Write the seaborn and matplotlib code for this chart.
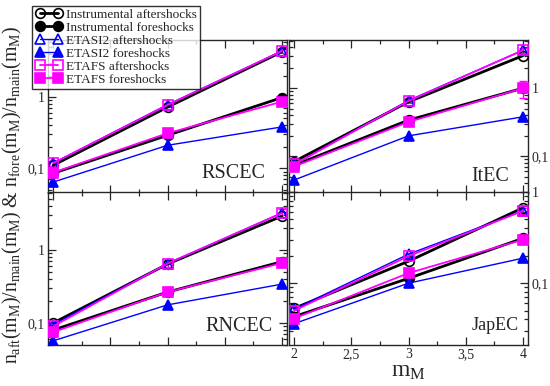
import numpy as np
import pandas as pd
import matplotlib
matplotlib.use("Agg")
import matplotlib.pyplot as plt
import matplotlib.ticker as mticker
import seaborn as sns

# magnitude of the mainshock
m_M = [2, 3, 4]

# RSCEC
rs_inst_aft = [0.110, 0.72, 4.3]
rs_inst_fore = [0.085, 0.29, 0.98]
rs_etasi2_aft = [0.118, 0.78, 4.4]
rs_etasi2_fore = [0.064, 0.21, 0.38]
rs_etafs_aft = [0.118, 0.77, 4.4]
rs_etafs_fore = [0.087, 0.31, 0.86]

# ItEC
it_inst_aft = [0.084, 0.63, 3.0]
it_inst_fore = [0.074, 0.34, 1.0]
it_etasi2_aft = [0.076, 0.66, 3.6]
it_etasi2_fore = [0.045, 0.20, 0.38]
it_etafs_aft = [0.076, 0.65, 3.6]
it_etafs_fore = [0.071, 0.32, 1.0]

# RNCEC
rn_inst_aft = [0.10, 0.64, 2.9]
rn_inst_fore = [0.08, 0.265, 0.69]
rn_etasi2_aft = [0.095, 0.65, 3.2]
rn_etasi2_fore = [0.057, 0.177, 0.34]
rn_etafs_aft = [0.09, 0.65, 3.2]
rn_etafs_fore = [0.075, 0.265, 0.66]

# JapEC
jp_inst_aft = [0.053, 0.174, 0.67]
jp_inst_fore = [0.043, 0.113, 0.31]
jp_etasi2_aft = [0.052, 0.208, 0.62]
jp_etasi2_fore = [0.036, 0.10, 0.188]
jp_etafs_aft = [0.05, 0.198, 0.62]
jp_etafs_fore = [0.041, 0.129, 0.30]

# error bars of the ETAFS curves
rs_err_aft = [0.01, 0.05, 0.3]
rs_err_fore = [0.008, 0.02, 0.06]
it_err_aft = [0.006, 0.05, 0.3]
it_err_fore = [0.006, 0.03, 0.28]
rn_err_aft = [0.012, 0.06, 0.4]
rn_err_fore = [0.01, 0.03, 0.08]
jp_err_aft = [0.005, 0.015, 0.05]
jp_err_fore = [0.004, 0.01, 0.03]

catalogs = ["RSCEC", "ItEC", "RNCEC", "JapEC"]
series = {
    "RSCEC": [rs_inst_aft, rs_inst_fore, rs_etasi2_aft, rs_etasi2_fore, rs_etafs_aft, rs_etafs_fore],
    "ItEC": [it_inst_aft, it_inst_fore, it_etasi2_aft, it_etasi2_fore, it_etafs_aft, it_etafs_fore],
    "RNCEC": [rn_inst_aft, rn_inst_fore, rn_etasi2_aft, rn_etasi2_fore, rn_etafs_aft, rn_etafs_fore],
    "JapEC": [jp_inst_aft, jp_inst_fore, jp_etasi2_aft, jp_etasi2_fore, jp_etafs_aft, jp_etafs_fore],
}
errors = {
    "RSCEC": (rs_err_aft, rs_err_fore),
    "ItEC": (it_err_aft, it_err_fore),
    "RNCEC": (rn_err_aft, rn_err_fore),
    "JapEC": (jp_err_aft, jp_err_fore),
}
labels = ["Instrumental aftershocks", "Instrumental foreshocks",
          "ETASI2 aftershocks", "ETASI2 foreshocks",
          "ETAFS aftershocks", "ETAFS foreshocks"]
ylims = {"RSCEC": (0.045, 6.3), "ItEC": (0.029, 5.1),
         "RNCEC": (0.05, 6.2), "JapEC": (0.021, 1.0)}

sns.set_style("ticks")
plt.rcParams['font.family'] = ['Liberation Serif', 'DejaVu Serif']
plt.rcParams['mathtext.fontset'] = 'custom'
plt.rcParams['mathtext.rm'] = 'Liberation Serif'
plt.rcParams['mathtext.it'] = 'Liberation Serif'

# style of each curve: color, marker, filled, line width
styles = [("black", "o", False, 2.0), ("black", "o", True, 2.0),
          ("#0000ff", "^", False, 1.0), ("#0000ff", "^", True, 1.0),
          ("#ff00ff", "s", False, 1.3), ("#ff00ff", "s", True, 1.3)]

def comma_fmt(v, pos):
    s = "{:g}".format(v)
    return s.replace(".", ",")

fig = plt.figure(figsize=(5.5, 3.86), dpi=100)
W, H = 550., 386.
boxes = {"RSCEC": (48, 40), "ItEC": (289, 40), "RNCEC": (48, 192), "JapEC": (289, 192)}
pw, ph = 239., 153.
label_pos = {"RSCEC": (0.91, 0.125, 14.5), "ItEC": (0.92, 0.11, 14.5),
             "RNCEC": (0.94, 0.12, 14.5), "JapEC": (0.96, 0.13, 13)}

handles = []
for cat in catalogs:
    x0, y0 = boxes[cat]
    ax = fig.add_axes([x0 / W, 1 - (y0 + ph) / H, pw / W, ph / H])
    for i, (vals, lab) in enumerate(zip(series[cat], labels)):
        col, mk, filled, lw = styles[i]
        df = pd.DataFrame({"m": m_M, "r": vals})
        if i >= 4:
            err = errors[cat][i - 4]
            ax.errorbar(m_M, vals, yerr=err, fmt="none", ecolor=col,
                        elinewidth=1.0, capsize=3, zorder=2)
        sns.lineplot(data=df, x="m", y="r", ax=ax, color=col, lw=lw,
                     marker=mk, markersize=7 if mk != "^" else 7.5,
                     markerfacecolor=col if filled else "none",
                     markeredgecolor=col, markeredgewidth=1.2,
                     label=lab if cat == "RSCEC" else None, zorder=3)
        if cat == "RSCEC":
            handles.append(ax.lines[-1])
    ax.set_yscale("log")
    ax.set_xlim(1.955, 4.045)
    ax.set_ylim(*ylims[cat])
    ax.set_xlabel("")
    ax.set_ylabel("")
    ax.xaxis.set_major_locator(mticker.MultipleLocator(0.5))
    ax.xaxis.set_minor_locator(mticker.MultipleLocator(0.25))
    ax.yaxis.set_major_locator(mticker.LogLocator(base=10))
    ax.yaxis.set_minor_locator(mticker.LogLocator(base=10, subs=np.arange(2, 10)))
    ax.yaxis.set_major_formatter(mticker.FuncFormatter(comma_fmt))
    ax.yaxis.set_minor_formatter(mticker.NullFormatter())
    ax.xaxis.set_major_formatter(mticker.FuncFormatter(comma_fmt))
    ax.tick_params(which="both", direction="in", top=True, right=True,
                   labelsize=10, width=0.9, pad=2.5)
    ax.tick_params(which="major", length=6)
    ax.tick_params(which="minor", length=3)
    if cat in ("ItEC", "JapEC"):
        ax.tick_params(axis="y", labelleft=False, labelright=True)
    if cat != "JapEC":
        ax.tick_params(axis="x", labelbottom=False)
    for sp in ax.spines.values():
        sp.set_linewidth(1.0)
    if ax.get_legend() is not None:
        ax.get_legend().remove()
    lx, ly, fs = label_pos[cat]
    ax.text(lx, ly, cat, transform=ax.transAxes, ha="right", va="center",
            fontsize=fs)
    if cat == "JapEC":
        ax.set_xlabel("$m_M$", fontsize=17, labelpad=0)
    if cat == "RSCEC":
        leg = ax.legend(handles=handles, labels=labels, loc="upper left",
                        bbox_to_anchor=(-0.065, 1.225), fontsize=9.5,
                        frameon=True, fancybox=False, edgecolor="black",
                        handlelength=2.0, handletextpad=0.3,
                        labelspacing=0.05, borderpad=0.25, borderaxespad=0,
                        numpoints=2)
        leg.get_frame().set_linewidth(1.0)
        leg.set_zorder(10)

fig.text(0.022, 0.495,
         "$n_{aft}(m_M)/n_{main}(m_M)$ & $n_{fore}(m_M)/n_{main}(m_M)$",
         rotation=90, ha="center", va="center", fontsize=14.3)

fig.savefig("out.png", dpi=100)
